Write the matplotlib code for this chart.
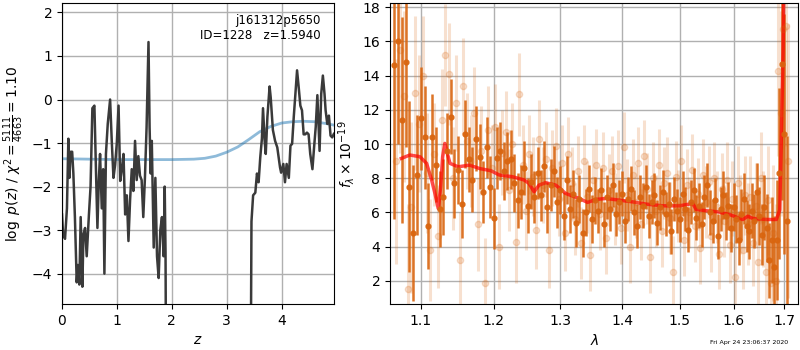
import matplotlib
matplotlib.use('Agg')
import matplotlib.pyplot as plt
from matplotlib.ticker import FixedLocator, FixedFormatter, NullLocator
import numpy as np

# p(z) (panneau gauche)
z_pz = [0.00, 0.02, 0.055, 0.09, 0.116, 0.135, 0.158, 0.185, 0.207, 0.235,
        0.268, 0.29, 0.316, 0.34, 0.371, 0.39, 0.42, 0.45, 0.49, 0.52,
        0.553, 0.59, 0.62, 0.645, 0.67, 0.693, 0.724, 0.75, 0.772, 0.80,
        0.833, 0.876, 0.906, 0.937, 0.967, 0.998, 1.03, 1.06, 1.09, 1.12,
        1.15, 1.18, 1.21, 1.24, 1.27, 1.30, 1.33, 1.36, 1.39, 1.42,
        1.45, 1.48, 1.51, 1.54, 1.575, 1.595, 1.615, 1.635, 1.67, 1.70,
        1.73, 1.76, 1.79, 1.82, 1.85, 1.87, 1.885, 1.90,
        3.43, 3.45, 3.48, 3.52, 3.55, 3.58, 3.61, 3.64, 3.66, 3.69,
        3.71, 3.74, 3.78, 3.80, 3.84, 3.88, 3.92, 3.97, 3.99, 4.03,
        4.06, 4.09, 4.13, 4.16, 4.19, 4.22, 4.25, 4.28, 4.31, 4.34,
        4.37, 4.40, 4.43, 4.46, 4.49, 4.52, 4.56, 4.59, 4.62, 4.65,
        4.69, 4.72, 4.75, 4.78, 4.80, 4.83, 4.86, 4.89, 4.92, 4.95]
log_pz = [-2.64, -3.1, -3.2, -2.5, -0.9, -1.8, -1.2, -1.2, -1.7, -2.7,
          -4.2, -3.8, -4.25, -2.7, -4.3, -3.1, -2.95, -3.6, -2.65, -2.0,
          -0.2, -0.14, -1.7, -2.95, -1.87, -1.25, -2.5, -1.6, -4.0, -1.25,
          -0.56, 0.0, -0.95, -1.8, -1.5, -1.0, -0.14, -1.87, -1.6, -1.25,
          -2.64, -2.2, -3.25, -2.3, -1.6, -2.1, -0.95, -1.85, -1.3, -1.75,
          -1.85, -2.7, -1.8, -0.64, 1.32, -0.64, -1.7, -0.95, -3.4, -1.8,
          -3.6, -4.1, -3.0, -2.7, -3.6, -2.0, -3.5, -8.0,
          -8.0, -2.8, -2.2, -2.14, -1.7, -1.9, -1.33, -0.9, -0.2, -0.95,
          -1.25, -0.4, 0.3, 0.05, -0.7, -0.95, -1.1, -1.56, -1.68, -1.48,
          -1.9, -1.48, -1.8, -1.06, -1.02, -0.4, 0.13, 0.67, 0.28, -0.14,
          -0.25, -0.8, -0.8, -0.76, -0.8, -1.25, -1.6, -1.1, -0.63, 0.1,
          -1.18, 0.13, 0.55, 0.13, -0.25, -0.56, -0.37, -0.83, -0.87, -0.79]

z_prior = [0.0, 0.5, 1.0, 1.5, 2.0, 2.4, 2.6, 2.8, 3.0, 3.2,
           3.4, 3.6, 3.8, 4.0, 4.2, 4.4, 4.6, 4.8, 4.96]
log_prior = [-1.36, -1.37, -1.38, -1.38, -1.38, -1.37, -1.35, -1.30, -1.21, -1.09,
             -0.92, -0.74, -0.62, -0.54, -0.51, -0.50, -0.51, -0.55, -0.59]

# spectre (panneau droit)
wave_dark = np.arange(129) * 0.005 + 1.065
flux_dark = [14.6, 16.0, 11.4, 14.8, 7.5, 4.8, 8.2, 11.5, 10.4, 5.2,
             10.4, 8.8, 6.2, 6.9, 9.6, 11.6, 7.7, 8.5, 6.5, 10.6,
             9.1, 7.9, 10.3, 9.25, 7.2, 9.8, 7.5, 5.65, 9.2, 9.6,
             8.4, 9.0, 9.1, 7.7, 6.7, 7.2, 8.6, 6.4, 7.8, 6.9,
             8.3, 7.0, 8.7, 6.3, 7.6, 8.4, 6.6, 7.3, 5.8, 7.9,
             6.2, 7.1, 5.4, 6.8, 4.8, 6.0, 7.4, 5.6, 6.7, 6.1,
             7.3, 5.3, 6.9, 6.2, 7.6, 5.9, 6.6, 7.1, 5.5, 6.8,
             7.4, 6.0, 5.2, 6.9, 6.4, 7.5, 5.8, 6.6, 7.0, 5.4,
             6.3, 7.2, 5.9, 6.5, 4.9, 6.8, 6.1, 5.6, 7.1, 6.2,
             5.0, 6.6, 7.3, 5.7, 6.4, 5.3, 6.9, 7.6, 6.0, 5.5,
             6.7, 4.6, 6.2, 7.0, 5.8, 6.4, 5.1, 6.3, 5.6, 4.4,
             5.9, 6.8, 5.2, 4.9, 6.1, 5.5, 7.2, 5.8, 4.7, 6.3,
             5.1, 3.2, 4.4, 2.8, 4.4, 8.3, 14.7, 10.6, 5.5]
err_dark = [9, 6, 6, 5, 5, 4, 3.5, 3, 3, 2.5,
            2.5, 2.2, 2.2, 2.2, 2.2, 2.2, 2, 2, 2, 2,
            1.9, 1.9, 1.9, 1.9, 1.8, 1.8, 1.8, 1.8, 1.8, 1.7,
            1.7, 1.7, 1.7, 1.7, 1.6, 1.6, 1.6, 1.6, 1.6, 1.5,
            1.5, 1.5, 1.5, 1.5, 1.5, 1.5, 1.5, 1.4, 1.4, 1.4,
            1.4, 1.4, 1.4, 1.4, 1.4, 1.4, 1.4, 1.4, 1.4, 1.3,
            1.3, 1.3, 1.3, 1.3, 1.3, 1.3, 1.3, 1.3, 1.3, 1.3,
            1.3, 1.3, 1.3, 1.3, 1.3, 1.3, 1.3, 1.3, 1.3, 1.3,
            1.3, 1.3, 1.3, 1.3, 1.3, 1.3, 1.3, 1.3, 1.3, 1.3,
            1.3, 1.3, 1.3, 1.3, 1.3, 1.3, 1.3, 1.3, 1.3, 1.3,
            1.3, 1.3, 1.3, 1.4, 1.4, 1.4, 1.4, 1.4, 1.4, 1.5,
            1.5, 1.5, 1.5, 1.6, 1.6, 1.6, 1.7, 1.7, 1.8, 1.9,
            2.0, 2.2, 2.5, 3, 3.5, 5, 8, 7, 5]

wave_light = np.arange(129) * 0.005 + 1.0675
flux_light = [9.0, 15.5, 12.8, 1.5, 6.3, 13.0, 11.2, 14.0, 8.3, 3.8,
              9.4, 4.6, 11.4, 15.2, 14.1, 8.0, 12.4, 3.2, 13.4, 10.2,
              9.0, 11.8, 5.3, 9.6, 1.9, 10.8, 8.6, 11.0, 4.0, 9.5,
              10.7, 7.3, 10.0, 4.3, 12.9, 8.8, 6.1, 9.4, 8.1, 5.0,
              10.3, 7.6, 9.1, 3.8, 8.6, 9.9, 6.8, 8.9, 4.8, 9.4,
              7.7, 5.6, 8.4, 4.2, 9.0, 6.9, 3.5, 7.9, 8.8, 5.9,
              8.6, 4.5, 7.3, 8.4, 6.2, 8.7, 5.1, 9.8, 7.0, 4.0,
              8.2, 6.6, 8.9, 5.3, 9.3, 7.4, 3.4, 8.0, 6.1, 8.8,
              4.9, 7.7, 8.3, 5.7, 2.5, 8.1, 6.4, 9.0, 4.4, 7.6,
              6.0, 8.5, 5.2, 7.1, 3.9, 8.2, 6.6, 7.8, 4.6, 8.0,
              6.3, 3.6, 7.4, 5.5, 7.9, 4.1, 6.8, 2.2, 7.7, 5.9,
              3.8, 7.0, 5.3, 6.9, 4.2, 6.4, 3.1, 8.0, 5.6, 2.5,
              6.7, 1.9, 4.8, 2.0, 14.3, 11.8, 16.7, 16.9, 9.0]
err_light = [6, 6, 5, 5, 5, 4.5, 4, 3.5, 3.5, 3,
             3, 3, 3, 3, 3, 3, 2.8, 2.8, 2.8, 2.8,
             2.7, 2.7, 2.7, 2.6, 2.6, 2.6, 2.5, 2.5, 2.5, 2.5,
             2.4, 2.4, 2.4, 2.4, 2.4, 2.3, 2.3, 2.3, 2.3, 2.3,
             2.3, 2.2, 2.2, 2.2, 2.2, 2.2, 2.2, 2.2, 2.2, 2.2,
             2.1, 2.1, 2.1, 2.1, 2.1, 2.1, 2.1, 2.1, 2.1, 2.1,
             2.1, 2.1, 2.1, 2.1, 2.1, 2.1, 2.1, 2.1, 2.1, 2.1,
             2.1, 2.1, 2.1, 2.1, 2.1, 2.1, 2.1, 2.1, 2.1, 2.1,
             2.1, 2.1, 2.1, 2.1, 2.1, 2.1, 2.1, 2.1, 2.1, 2.1,
             2.1, 2.1, 2.1, 2.1, 2.1, 2.1, 2.1, 2.1, 2.1, 2.1,
             2.1, 2.1, 2.1, 2.1, 2.2, 2.2, 2.2, 2.2, 2.2, 2.3,
             2.3, 2.3, 2.4, 2.4, 2.5, 2.5, 2.6, 2.7, 2.8, 3,
             3.2, 3.5, 4, 4.5, 5, 6, 7, 7, 8]

wave_model = [1.0745, 1.0855, 1.0987, 1.1075, 1.1142, 1.1187, 1.1231, 1.1263, 1.129, 1.132,
              1.1354, 1.139, 1.1502, 1.166, 1.18, 1.1964, 1.2082, 1.2275, 1.2447, 1.2521,
              1.2597, 1.2672, 1.2774, 1.2928, 1.3084, 1.3295, 1.343, 1.3565, 1.3729, 1.3951,
              1.4176, 1.4406, 1.4696, 1.4993, 1.5173, 1.5233, 1.5296, 1.548, 1.5697, 1.5919,
              1.6175, 1.6273, 1.6371, 1.6638, 1.684, 1.6908, 1.6942, 1.6976, 1.699]
flux_model = [9.16, 9.36, 9.26, 8.87, 7.9, 7.1, 6.23, 7.5, 9.26, 10.04,
              9.45, 8.87, 8.67, 8.77, 8.57, 8.44, 8.19, 8.09, 7.9, 7.7,
              7.21, 7.6, 7.74, 7.6, 7.11, 6.82, 6.59, 6.76, 6.82, 6.72,
              6.62, 6.49, 6.39, 6.39, 6.49, 6.53, 6.18, 6.1, 6.04, 5.88,
              5.59, 5.78, 5.65, 5.59, 5.59, 6.14, 10.62, 15.5, 19.0]

xticks_spec = [1.1, 1.2, 1.3, 1.4, 1.5, 1.6, 1.7]
orange = '#d9650f'

fig = plt.figure(figsize=(8, 3.5), dpi=100)
ax1 = fig.add_axes([0.0775, 0.131, 0.3405, 0.8596])
ax2 = fig.add_axes([0.4875, 0.131, 0.5105, 0.8596])

# panneau p(z)
ax1.plot(z_prior, log_prior, color='tab:blue', alpha=0.5, lw=2)
ax1.plot(z_pz, log_pz, color='#3a3a3a', lw=1.8)
ax1.set_xlim(0, 4.96)
ax1.set_ylim(-4.70, 2.21)
ax1.set_xticks([0, 1, 2, 3, 4])
ax1.set_yticks([-4, -3, -2, -1, 0, 1, 2])
ax1.grid(color='#b0b0b0', lw=1)
ax1.set_axisbelow(True)
ax1.set_xlabel('$z$', fontsize=10)
ax1.set_ylabel(r'$\log\ p(z)$ / $\chi^2=\frac{5111}{4663}=1.10$', fontsize=10)
ax1.text(0.95, 0.965, 'j161312p5650\nID=1228   z=1.5940', transform=ax1.transAxes,
         ha='right', va='top', fontsize=8.5)

# panneau spectre
ax2.errorbar(wave_light, flux_light, yerr=err_light, color=orange, alpha=0.2,
             marker='o', ms=4.5, linestyle='None', elinewidth=2.2)
ax2.errorbar(wave_dark, flux_dark, yerr=err_dark, color=orange, alpha=0.9,
             marker='o', ms=3.5, linestyle='None', elinewidth=1.8)
ax2.plot(wave_model, flux_model, color='red', alpha=0.7, lw=2.5)
ax2.set_xscale('log')
ax2.set_xlim(1.060, 1.729)
ax2.set_ylim(0.64, 18.23)
ax2.xaxis.set_major_locator(FixedLocator(xticks_spec))
ax2.xaxis.set_major_formatter(FixedFormatter([f'{t:.1f}' for t in xticks_spec]))
ax2.xaxis.set_minor_locator(NullLocator())
ax2.set_yticks([2, 4, 6, 8, 10, 12, 14, 16, 18])
ax2.grid(color='#b0b0b0', lw=1)
ax2.set_axisbelow(True)
ax2.set_xlabel(r'$\lambda$', fontsize=10)
ax2.set_ylabel(r'$f_\lambda \times 10^{-19}$', fontsize=10)

fig.text(0.985, 0.015, 'Fri Apr 24 23:06:37 2020', ha='right', va='bottom', fontsize=4.5)

fig.savefig('out.png', dpi=100)
